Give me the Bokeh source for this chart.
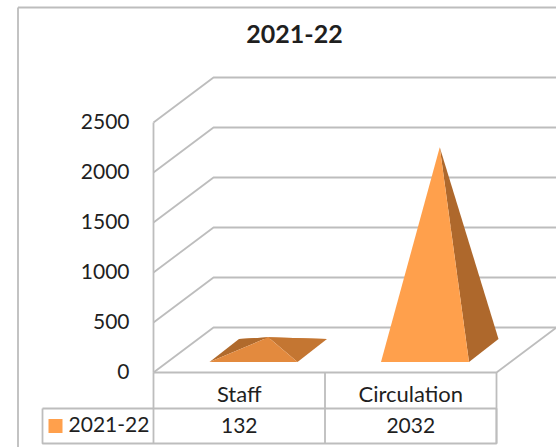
from bokeh.plotting import figure
from bokeh.embed import file_html
from bokeh.resources import INLINE
from bokeh.core.properties import value
from bokeh.models import Range1d

title = "2021-22"
series_name = "2021-22"
categories = ["Staff", "Circulation"]
values = [132, 2032]
ticks = [0, 500, 1000, 1500, 2000, 2500]
colors = {"front": "#FFA04C", "side": "#AE682C", "staff_front": "#E38A3E",
          "staff_side": "#C47632", "staff_back": "#B06A2C"}
GRID = "#BDBDBD"
TXT = "#1f1f1f"
FONT = "Lato"
W, H = 556, 447

p = figure(width=W, height=H, x_range=Range1d(0, W), y_range=Range1d(H, 0),
           output_backend="svg", toolbar_location=None, min_border=0,
           outline_line_color=None, background_fill_color="white")
p.axis.visible = False
p.grid.visible = False

X0, Y0, PX = 153, 372, 0.1     # front-left corner, pixels per unit
DX, DY = 60, -45               # depth offset
FW = 343                       # floor width
yv = lambda v: Y0 - v * PX

def seg(xs, ys, color=GRID, w=1.8):
    p.line(xs, ys, line_color=color, line_width=w)

def txt(x, y, s, size, align="center", style="normal"):
    p.text([x], [y], text=[s], text_font=value(FONT), text_font_size=f"{size}px",
           text_align=align, text_baseline="middle", text_color=TXT, text_font_style=style)

# frame
seg([17.5, 17.5], [H, 7])
seg([17.5, W], [7, 7])

txt(294, 33, title, 25, style="bold")

# walls and gridlines
seg([X0, X0], [yv(ticks[-1]), Y0])
for t in ticks:
    seg([X0, X0 + DX, W], [yv(t), yv(t) + DY, yv(t) + DY])
    txt(129, yv(t) - 1, str(t), 21, align="right")
# floor
seg([X0, X0 + FW, W], [Y0, Y0, Y0 + DY])

# pyramids
n = len(categories)
slot = FW / n
for i, (cat, v) in enumerate(zip(categories, values)):
    bx0 = X0 + slot * i + 56
    bx1 = bx0 + 88
    by = Y0 - 10.5
    ox, oy = 29.5, -23
    ax = (bx0 + bx1 + ox) / 2
    ay = by + oy / 2 - v * PX
    if i == 0:
        p.patch([bx0 + ox, bx1 + ox, ax], [by + oy, by + oy, ay], fill_color=colors["staff_side"], line_color=None)
        p.patch([bx0, bx0 + ox, ax], [by, by + oy, ay], fill_color=colors["staff_back"], line_color=None)
        p.patch([bx1, bx1 + ox, ax], [by, by + oy, ay], fill_color=colors["staff_side"], line_color=None)
        p.patch([bx0, bx1, ax], [by, by, ay], fill_color=colors["staff_front"], line_color=None)
    else:
        p.patch([bx1, bx1 + ox, ax], [by, by + oy, ay], fill_color=colors["side"], line_color=None)
        p.patch([bx0, bx1, ax], [by, by, ay], fill_color=colors["front"], line_color=None)

# data table
TL, TM, TB = 42, 408, 443
cols = [X0, X0 + slot, X0 + FW]
seg([TL, cols[2], cols[2], TL, TL], [TM, TM, TB, TB, TM])
seg([X0, X0], [Y0, TB])
seg([cols[1], cols[1]], [Y0, TB])
seg([cols[2], cols[2]], [Y0, TB])
p.rect([55], [425.5], width=14, height=14, fill_color=colors["front"], line_color=None)
txt(108.5, 423.5, series_name, 21)
for i, (cat, v) in enumerate(zip(categories, values)):
    cx = X0 + slot * (i + 0.5)
    txt(cx, 393, cat, 22)
    txt(cx, 425, str(v), 21)

open("out.html", "w").write(file_html(p, INLINE))
